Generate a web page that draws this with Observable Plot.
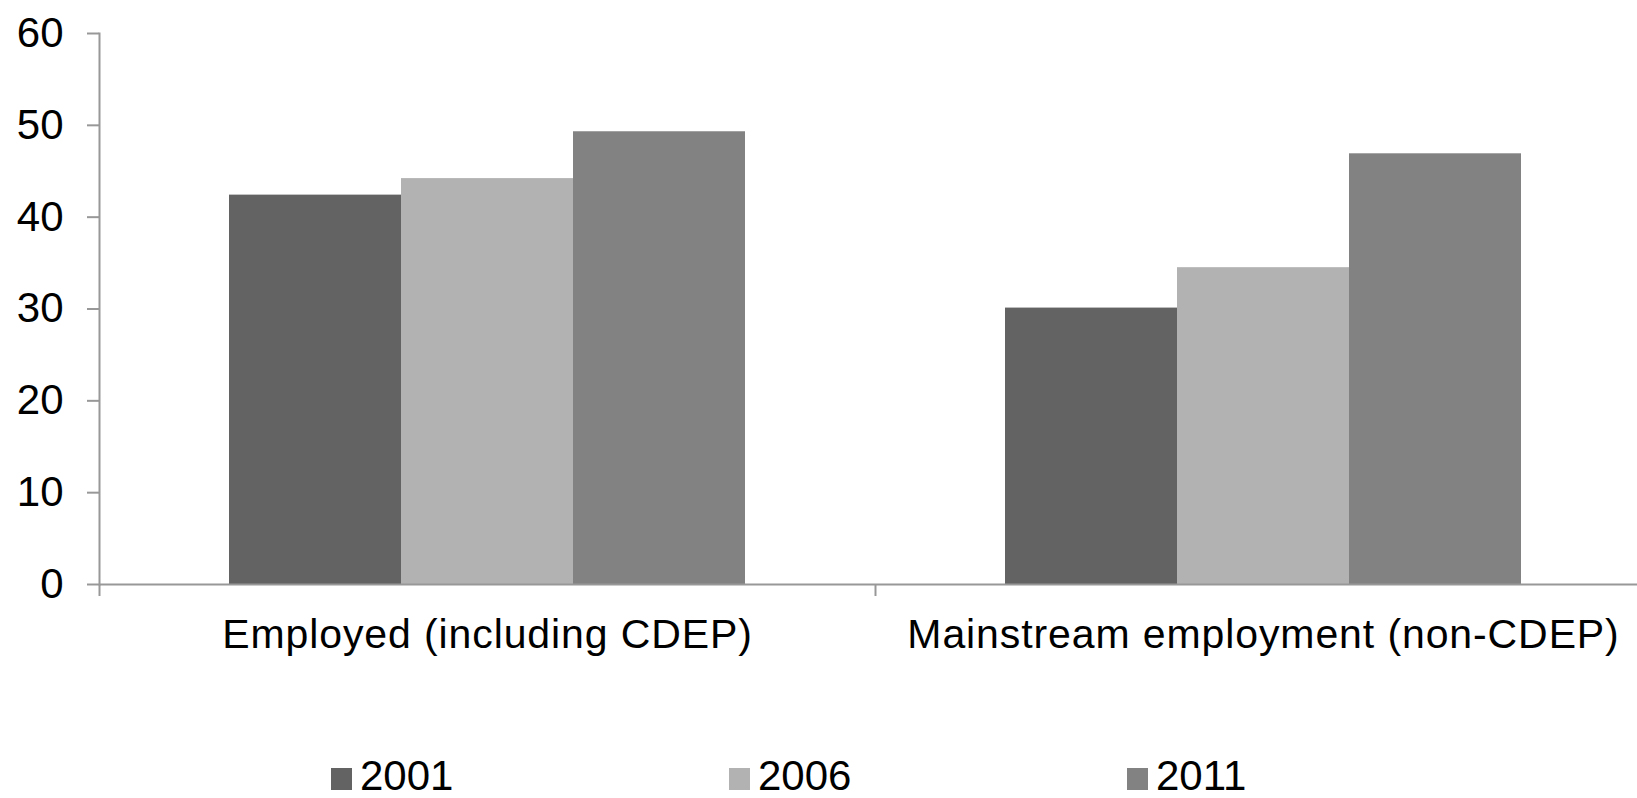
<!DOCTYPE html>
<html>
<head>
<meta charset="utf-8">
<script src="https://cdn.jsdelivr.net/npm/d3@7"></script>
<script src="https://cdn.jsdelivr.net/npm/@observablehq/plot@0.6"></script>
<style>
  html, body { margin: 0; padding: 0; background: #fff; }
  body { width: 1637px; height: 798px; overflow: hidden; font-family: "Liberation Sans", Arial, sans-serif; }
  #chart { width: 1637px; overflow: hidden; }
  #chart svg { display: block; max-width: none !important; }
  #chart g[aria-label="fx-axis tick label"] text { letter-spacing: 0.9px; }
  .legend { display: flex; padding-left: 331px; margin-top: 75px; line-height: 42px; font-size: 42px; color: #000; }
  .legend .item { width: 398px; display: flex; align-items: center; }
  .legend .swatch { width: 21px; height: 22px; margin-right: 8px; margin-top: 5px; }
</style>
</head>
<body>
<div id="chart"></div>
<div class="legend" id="legend"></div>
<script>
// Share of people employed, by census year
const categories = ["Employed (including CDEP)", "Mainstream employment (non-CDEP)"];
const years = ["2001", "2006", "2011"];
const values2001 = [42.4, 30.1];
const values2006 = [44.2, 34.5];
const values2011 = [49.3, 46.9];
const yTicks = [0, 10, 20, 30, 40, 50, 60];
const yearColors = ["#636363", "#b2b2b2", "#828282"];

const seriesByYear = [values2001, values2006, values2011];
const rows = categories.flatMap((category, i) =>
  years.map((year, j) => ({category, year, value: seriesByYear[j][i]}))
);

// The plot area runs a little past the right edge of the page
const W = 1651, H = 680;
const ML = 99, MR = 0, MT = 33, MB = 96;
const axisGrey = "#989898";
const groupWidth = (W - ML - MR) / categories.length;

const chart = Plot.plot({
  width: W,
  height: H,
  marginLeft: ML,
  marginRight: MR,
  marginTop: MT,
  marginBottom: MB,
  style: {fontFamily: "'Liberation Sans', Arial, sans-serif", fontSize: "40px", color: "#000", background: "#fff", maxWidth: "none"},
  fx: {domain: categories, paddingInner: 0, paddingOuter: 0, label: null},
  x: {domain: years, paddingInner: 0, paddingOuter: 0.752, axis: null},
  y: {domain: [0, 60], label: null},
  color: {domain: years, range: yearColors},
  marks: [
    Plot.barY(rows, {fx: "category", x: "year", y: "value", fill: "year"}),
    Plot.ruleY([0], {stroke: axisGrey, strokeWidth: 2}),
    Plot.frame({anchor: "left", facetAnchor: "left", stroke: axisGrey, strokeWidth: 2}),
    Plot.axisY({ticks: yTicks, tickSize: 12, tickPadding: 24, stroke: axisGrey, strokeWidth: 2, fill: "#000", fontSize: 42, label: null}),
    Plot.axisFx({anchor: "bottom", tickSize: 0, tickPadding: 34, fill: "#000", fontSize: 41, label: null}),
    Plot.axisFx({anchor: "bottom", tickSize: 12, dx: -groupWidth / 2, tickFormat: () => "", stroke: axisGrey, strokeWidth: 2, label: null})
  ]
});
document.getElementById("chart").append(chart);

// Legend below the plot
const legend = document.getElementById("legend");
years.forEach((year, j) => {
  const item = document.createElement("div");
  item.className = "item";
  const sw = document.createElement("span");
  sw.className = "swatch";
  sw.style.background = yearColors[j];
  const label = document.createElement("span");
  label.textContent = year;
  item.append(sw, label);
  legend.append(item);
});
</script>
</body>
</html>
